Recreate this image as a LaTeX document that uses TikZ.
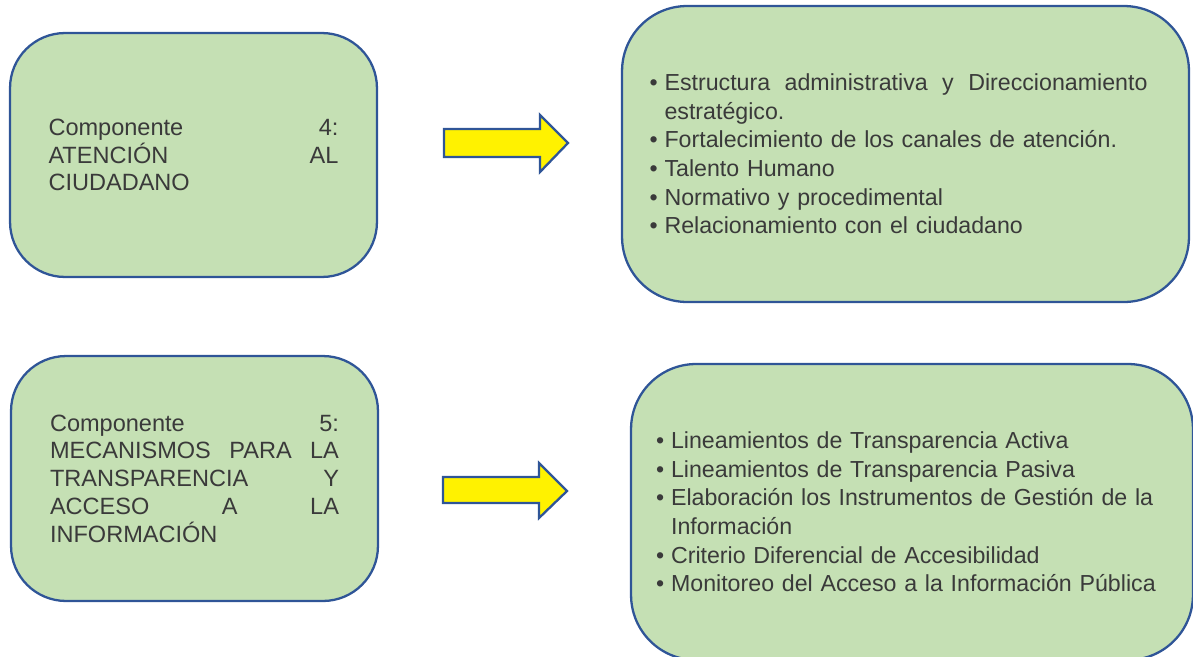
\documentclass[tikz,border=0pt]{standalone}
\usepackage{fontspec}
\setmainfont{Liberation Sans}
\usepackage{tikz}
\definecolor{boxgreen}{HTML}{C5E0B4}
\definecolor{boxblue}{HTML}{2F5597}
\definecolor{txtgray}{HTML}{3A3A3A}
\newcommand{\bul}{\makebox[0.3cm][l]{\textbullet}}

\begin{document}
\begin{tikzpicture}[x=0.02cm,y=-0.02cm,
    caja/.style={draw=boxblue,line width=1.3pt,fill=boxgreen,rounded corners=1.1cm,
        text=txtgray,align=left,inner sep=0pt,font=\fontsize{13.4}{15.8}\selectfont},
    lista/.style={caja,rounded corners=1.3cm,font=\fontsize{13.2}{16.3}\selectfont},
    flecha/.style={draw=boxblue,line width=1.3pt,fill=yellow,line join=miter}]
    \useasboundingbox (0,0) rectangle (1193,656);

    \node[caja,minimum width=7.34cm,minimum height=4.88cm,text width=5.8cm] (comp4) at (193.5,155)
        {Componente\hfill 4:\\ ATENCIÓN\hfill AL\\ CIUDADANO};
    \node[caja,minimum width=7.34cm,minimum height=4.9cm,text width=5.78cm] (comp5) at (194.5,478.5)
        {Componente\hfill 5:\\ MECANISMOS\hfill PARA\hfill LA\\ TRANSPARENCIA\hfill Y\\ ACCESO\hfill A\hfill LA\\ INFORMACIÓN};

    \node[lista,minimum width=11.34cm,minimum height=5.92cm,text width=10.24cm] (items4) at (905.5,154)
        {\bul\makebox[9.66cm][s]{Estructura\hfill administrativa\hfill y\hfill Direccionamiento}\\
         \hspace*{0.3cm}estratégico.\\
         \bul Fortalecimiento de los canales de atención.\\
         \bul Talento Humano\\
         \bul Normativo y procedimental\\
         \bul Relacionamiento con el ciudadano};
    \node[lista,minimum width=11.24cm,minimum height=5.92cm,text width=10.24cm] (items5) at (912,512)
        {\bul Lineamientos de Transparencia Activa\\
         \bul Lineamientos de Transparencia Pasiva\\
         \bul Elaboración los Instrumentos de Gestión de la\\
         \hspace*{0.3cm}Información\\
         \bul Criterio Diferencial de Accesibilidad\\
         \bul Monitoreo del Acceso a la Información Pública};

    \draw[flecha] (444,129) -- (540,129) -- (540,115) -- (568,143) -- (540,172) -- (540,157) -- (444,157) -- cycle;
    \draw[flecha] (443,477) -- (539,477) -- (539,463) -- (567,491) -- (539,518) -- (539,503) -- (443,503) -- cycle;
\end{tikzpicture}
\end{document}
